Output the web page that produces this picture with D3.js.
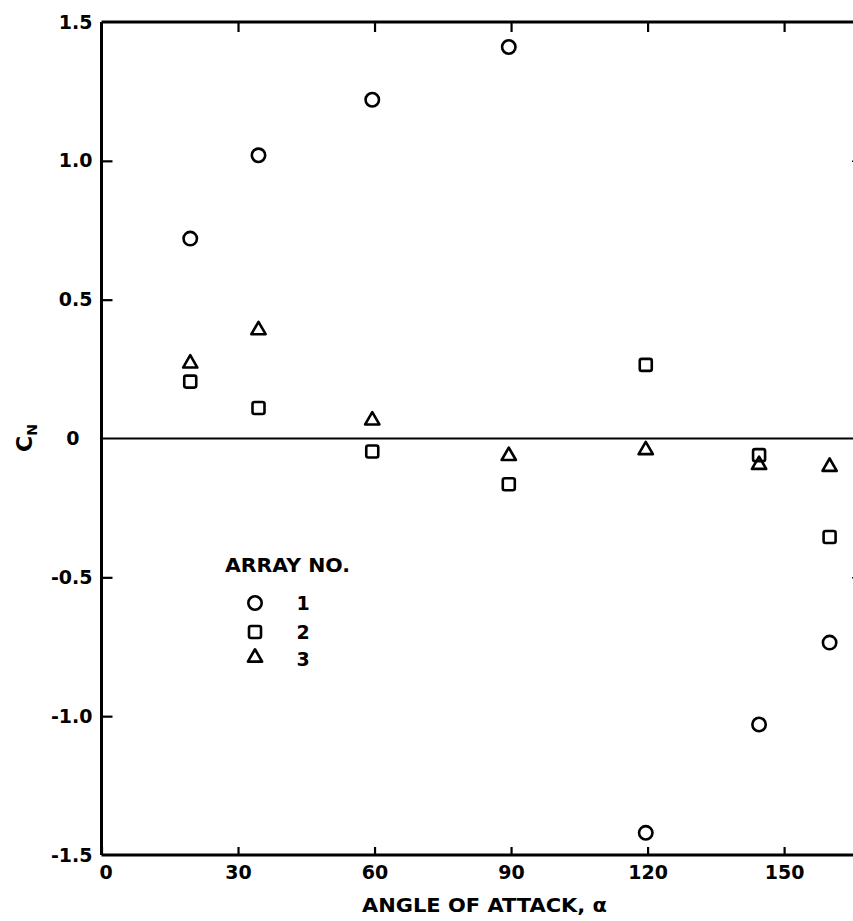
<!DOCTYPE html>
<html>
<head>
<meta charset="utf-8">
<script src="https://cdn.jsdelivr.net/npm/d3@7"></script>
<style>
  html, body { margin: 0; padding: 0; background: #fff; }
  svg { display: block; }
  text { font-family: "DejaVu Sans", sans-serif; font-weight: bold; fill: #000; }
</style>
</head>
<body>
<div id="chart"></div>
<script>
// Angle of attack (deg) for each measurement
const angles = [19.5, 34.5, 59.5, 89.5, 119.6, 144.5, 160];
// Normal-force coefficient C_N per array
const array1 = [0.72, 1.02, 1.22, 1.41, -1.42, -1.03, -0.735];
const array2 = [0.205, 0.11, -0.047, -0.165, 0.265, -0.06, -0.355];
const array3 = [0.265, 0.385, 0.06, -0.068, -0.047, -0.10, -0.107];

const xTicks = [0, 30, 60, 90, 120, 150];
const xTickLabels = ["0", "30", "60", "90", "120", "150"];
const yTicks = [1.5, 1.0, 0.5, 0, -0.5, -1.0, -1.5];
const yTickLabels = ["1.5", "1.0", "0.5", "0", "-0.5", "-1.0", "-1.5"];
const seriesNames = ["1", "2", "3"];
const seriesShapes = ["circle", "square", "triangle"];

const W = 853, H = 921;
const mLeft = 101.5, mRight = 856, mTop = 22, mBottom = 855;

const svg = d3.select("#chart").append("svg").attr("width", W).attr("height", H);

const x = d3.scaleLinear().domain([0, 165.8]).range([mLeft, mRight]);
const y = d3.scaleLinear().domain([-1.5, 1.5]).range([mBottom, mTop]);

function styleAxis(g) {
  g.selectAll(".domain").attr("stroke", "#000").attr("stroke-width", 3);
  g.selectAll(".tick line").attr("stroke", "#000").attr("stroke-width", 2.2);
  g.selectAll(".tick text").style("font-size", "19px").attr("fill", "#000")
    .style("font-family", "DejaVu Sans").style("font-weight", "bold");
}

// Bottom axis
const xb = svg.append("g").attr("transform", `translate(0,${mBottom})`)
  .call(d3.axisBottom(x).tickValues(xTicks).tickFormat((d, i) => xTickLabels[i])
    .tickSizeInner(-8).tickSizeOuter(0).tickPadding(11));
xb.select(".domain").attr("d", `M${mLeft},0H${W}`);
styleAxis(xb);
xb.selectAll(".tick").filter(d => d === 0).select("text").attr("dx", 4);

// Top axis
const xt = svg.append("g").attr("transform", `translate(0,${mTop})`)
  .call(d3.axisTop(x).tickValues(xTicks.filter(d => d > 0)).tickFormat("")
    .tickSizeInner(-10).tickSizeOuter(0));
xt.select(".domain").attr("d", `M${mLeft},0H${W}`);
styleAxis(xt);

// Left axis
const yl = svg.append("g").attr("transform", `translate(${mLeft},0)`)
  .call(d3.axisLeft(y).tickValues(yTicks).tickFormat((d, i) => yTickLabels[i])
    .tickSizeInner(-11).tickSizeOuter(0).tickPadding(9));
yl.select(".domain").attr("d", `M0,${mTop}V${mBottom}`);
styleAxis(yl);
yl.selectAll(".tick").filter(d => d === 0).select("text").attr("dx", -13);
yl.selectAll(".tick").filter(d => d === 0 || Math.abs(d) === 1.5).select("line").remove();

// Right axis (frame edge just outside the picture, only tick tips visible)
const yr = svg.append("g").attr("transform", `translate(${mRight + 5},0)`)
  .call(d3.axisRight(y).tickValues([1.0, -0.5]).tickFormat("")
    .tickSizeInner(-9).tickSizeOuter(0));
styleAxis(yr);
yr.selectAll(".tick line").attr("stroke-width", 1.5);

// Zero line
svg.append("line")
  .attr("x1", mLeft).attr("x2", W)
  .attr("y1", y(0)).attr("y2", y(0))
  .attr("stroke", "#000").attr("stroke-width", 2.2);

// Marker drawing
const triPath = d3.symbol(d3.symbolTriangle, 88)();
function drawMarker(g, shape) {
  if (shape === "circle") {
    g.append("circle").attr("r", 6.7);
  } else if (shape === "square") {
    g.append("rect").attr("x", -6).attr("y", -6).attr("width", 12).attr("height", 12).attr("rx", 2);
  } else {
    g.append("path").attr("d", triPath).attr("transform", "translate(0,-1.5)");
  }
  g.selectAll("*").attr("fill", "none").attr("stroke", "#000")
    .attr("stroke-width", 2.6).attr("stroke-linejoin", "round");
}

const seriesData = [array1, array2, array3];
seriesData.forEach((vals, si) => {
  const pts = svg.append("g").selectAll("g.pt")
    .data(angles.map((a, i) => ({ a, v: vals[i] })))
    .join("g")
    .attr("class", "pt")
    .attr("transform", d => `translate(${x(d.a)},${y(d.v)})`);
  pts.each(function () { drawMarker(d3.select(this), seriesShapes[si]); });
});

// Legend
svg.append("text").attr("x", 225).attr("y", 572)
  .attr("textLength", 125).attr("lengthAdjust", "spacingAndGlyphs")
  .style("font-size", "19px").text("ARRAY  NO.");
const legendY = [603, 632, 659];
seriesNames.forEach((name, i) => {
  const g = svg.append("g").attr("transform", `translate(255,${legendY[i]})`);
  drawMarker(g, seriesShapes[i]);
  svg.append("text").attr("x", 303).attr("y", legendY[i] + 7)
    .attr("text-anchor", "middle").style("font-size", "19px").text(name);
});

// Axis titles
svg.append("text").attr("x", 362).attr("y", 912)
  .attr("textLength", 245).attr("lengthAdjust", "spacingAndGlyphs")
  .style("font-size", "20px").text("ANGLE OF ATTACK, α");

const ytitle = svg.append("text")
  .attr("transform", `translate(32,452) rotate(-90)`)
  .style("font-size", "22px");
ytitle.append("tspan").text("C");
ytitle.append("tspan").attr("dy", 5).style("font-size", "14px").text("N");
</script>
</body>
</html>
